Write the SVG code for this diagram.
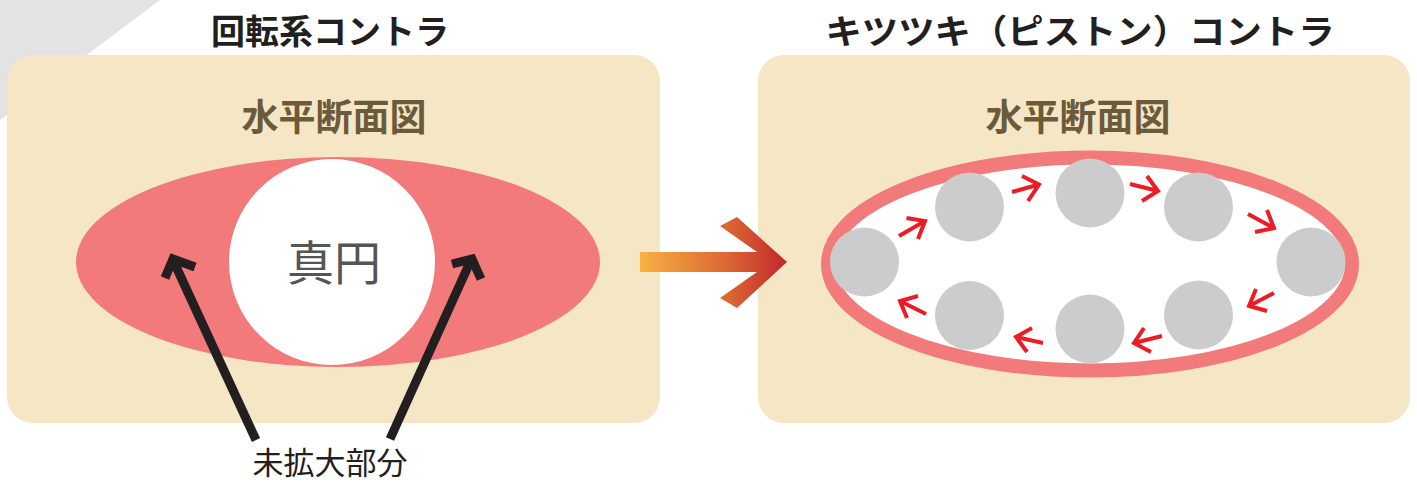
<svg xmlns="http://www.w3.org/2000/svg" width="1417" height="484" viewBox="0 0 1417 484">
<style>
.title{font-family:"Noto Sans CJK JP","Noto Sans CJK SC",sans-serif;font-weight:700;font-size:34px;fill:#231f20;text-anchor:middle}
.sub{font-family:"Noto Sans CJK JP","Noto Sans CJK SC",sans-serif;font-weight:700;font-size:37px;fill:#6b5a3c;text-anchor:middle}
.panel{fill:#f5e7c5}
.piston{fill:#cccccc}
.red{fill:none;stroke:#ed1c24;stroke-width:4}
.blk{fill:none;stroke:#231f20;stroke-width:9}
</style>
<defs>
<linearGradient id="og" x1="640" y1="0" x2="787" y2="0" gradientUnits="userSpaceOnUse">
<stop offset="0" stop-color="#f8b142"/>
<stop offset="0.6" stop-color="#db6632"/>
<stop offset="1" stop-color="#c1272d"/>
</linearGradient>
</defs>
<polygon points="0,0 160,0 0,120" fill="#e3e3e3"/>
<g id="left-panel">
<rect class="panel" x="7" y="55" width="653" height="368" rx="26"/>
<text class="title" x="330" y="44">回転系コントラ</text>
<text class="sub" x="334" y="131">水平断面図</text>
<ellipse cx="338" cy="262" rx="262" ry="105" fill="#f27a7b"/>
<circle cx="332" cy="262" r="103" fill="#ffffff"/>
<text x="334" y="280" font-family="'Noto Sans CJK JP',sans-serif" font-size="47" fill="#555555" text-anchor="middle">真円</text>
</g>
<g id="right-panel">
<rect class="panel" x="758" y="55" width="652" height="368" rx="26"/>
<text class="title" x="1080" y="44" textLength="509" lengthAdjust="spacingAndGlyphs">キツツキ（ピストン）コントラ</text>
<text class="sub" x="1078" y="131">水平断面図</text>
<ellipse cx="1090" cy="264" rx="262" ry="106.5" fill="#ffffff" stroke="#f27a7b" stroke-width="14"/>
<g id="pistons">
<circle class="piston" cx="864.5" cy="262" r="34.5"/>
<circle class="piston" cx="969.5" cy="207" r="34.5"/>
<circle class="piston" cx="1090" cy="193" r="34.5"/>
<circle class="piston" cx="1198.5" cy="207" r="34.5"/>
<circle class="piston" cx="1311" cy="262" r="34.5"/>
<circle class="piston" cx="1198.5" cy="315" r="34.5"/>
<circle class="piston" cx="1090" cy="329" r="34.5"/>
<circle class="piston" cx="969.5" cy="315.5" r="34.5"/>
</g>
</g>
<g id="connectors">
<path class="blk" d="M256,440 L173,260 M165,278 L173,259 L195,267"/>
<path class="blk" d="M390,439 L471,260 M452,264 L472,259 L481,279"/>
<polygon fill="url(#og)" points="640,252 757,252 720,226 737,217 787,262 737,308 720,298 757,272 640,272"/>
<path class="red" d="M899,236 L925,221 M906.5,218 L925,221 L918,239"/>
<path class="red" d="M1012,192 L1039,184.5 M1022,176 L1039,184.5 L1028,201"/>
<path class="red" d="M1130,184 L1158,191 M1147,176 L1158,191 L1142,201"/>
<path class="red" d="M1248,214 L1274,228 M1267,210 L1274,228 L1255,232"/>
<path class="red" d="M1274,293 L1249,306 M1256,289 L1249,306 L1267,311"/>
<path class="red" d="M1162,336 L1134,343 M1144,328 L1134,343 L1151,352"/>
<path class="red" d="M1043,343 L1016,337 M1032,328 L1016,337 L1027,352"/>
<path class="red" d="M926,314 L900,301 M918,296 L900,301 L907,318"/>
</g>
<text x="330" y="474" font-family="'Noto Sans CJK JP',sans-serif" font-size="31" fill="#231f20" text-anchor="middle">未拡大部分</text>
</svg>
